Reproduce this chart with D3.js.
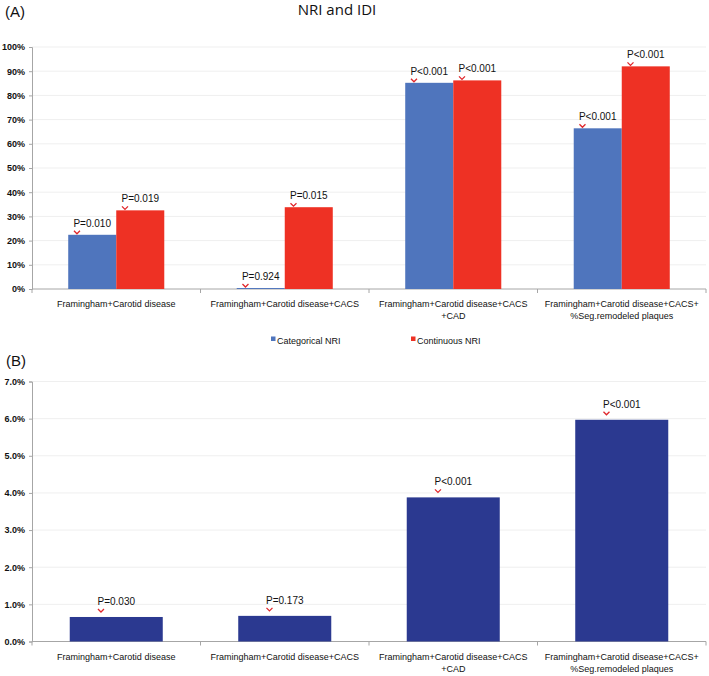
<!DOCTYPE html>
<html>
<head>
<meta charset="utf-8">
<script src="https://cdn.jsdelivr.net/npm/d3@7"></script>
<style>
  html, body { margin: 0; padding: 0; background: #fff; }
  svg { display: block; }
</style>
</head>
<body>
<svg id="chart" width="709" height="676"></svg>
<script>
// ---------- data ----------
const categories = [
  "Framingham+Carotid disease",
  "Framingham+Carotid disease+CACS",
  "Framingham+Carotid disease+CACS\n+CAD",
  "Framingham+Carotid disease+CACS+\n%Seg.remodeled plaques"
];
const seriesNames = ["Categorical NRI", "Continuous NRI"];
const categoricalNRI = [22.4, 0.4, 85.2, 66.4];
const continuousNRI = [32.5, 33.8, 86.2, 92.0];
const categoricalP = ["P=0.010", "P=0.924", "P<0.001", "P<0.001"];
const continuousP = ["P=0.019", "P=0.015", "P<0.001", "P<0.001"];
const idiValues = [0.66, 0.69, 3.88, 5.97];
const idiP = ["P=0.030", "P=0.173", "P<0.001", "P<0.001"];
const ticksA = [0, 10, 20, 30, 40, 50, 60, 70, 80, 90, 100];
const ticksB = [0, 1, 2, 3, 4, 5, 6, 7];

// ---------- styles ----------
const colors = { "Categorical NRI": "#4f75bd", "Continuous NRI": "#ee3124" };
const idiColor = "#2b3990";
const chevronColor = "#e0262b";
const axisColor = "#a6a6a6";
const gridColor = "#efefef";
const font = "Liberation Sans, Arial, sans-serif";

const svg = d3.select("#chart");

// title
svg.append("text").attr("x", 337).attr("y", 15).attr("text-anchor", "middle")
  .attr("font-family", "Open Sans, Lato, sans-serif").attr("font-size", 15)
  .attr("fill", "#111").text("NRI and IDI");

svg.append("text").attr("x", 5).attr("y", 17)
  .attr("font-family", font).attr("font-size", 15).attr("fill", "#111").text("(A)");
svg.append("text").attr("x", 6).attr("y", 366)
  .attr("font-family", font).attr("font-size", 15).attr("fill", "#111").text("(B)");

function drawFrame(g, x, y, ticks, fmt) {
  const [x0, x1] = x.range();
  // gridlines
  g.append("g").selectAll("line").data(ticks.filter(t => t !== 0)).join("line")
    .attr("x1", x0).attr("x2", x1)
    .attr("y1", d => y(d)).attr("y2", d => y(d))
    .attr("stroke", gridColor).attr("stroke-width", 1);
  // y axis
  const ya = g.append("g").attr("transform", `translate(${x0},0)`)
    .call(d3.axisLeft(y).tickValues(ticks).tickFormat(fmt).tickSize(3).tickPadding(4));
  ya.select(".domain").attr("stroke", axisColor);
  ya.selectAll(".tick line").attr("stroke", axisColor);
  ya.selectAll(".tick text").attr("font-family", font).attr("font-size", 9)
    .attr("font-weight", "bold").attr("fill", "#111");
  // x axis line with category boundary ticks
  const base = y(0);
  g.append("line").attr("x1", x0).attr("x2", x1).attr("y1", base).attr("y2", base)
    .attr("stroke", axisColor).attr("stroke-width", 1);
  const step = x.step();
  const bounds = d3.range(categories.length + 1).map(i => x0 + i * step);
  g.append("g").selectAll("line").data(bounds).join("line")
    .attr("x1", d => d).attr("x2", d => d).attr("y1", base).attr("y2", base + 4)
    .attr("stroke", axisColor);
  // category labels
  const lab = g.append("g").selectAll("text").data(categories).join("text")
    .attr("text-anchor", "middle").attr("font-family", font).attr("font-size", 9)
    .attr("fill", "#111")
    .attr("transform", d => `translate(${x(d) + x.bandwidth() / 2},${base + 18})`);
  lab.selectAll("tspan").data(d => d.split("\n")).join("tspan")
    .attr("x", 0).attr("dy", (d, i) => i === 0 ? 0 : 12).text(d => d);
}

function pLabel(g, cx, barTop, text, offset) {
  const t = g.append("text").attr("x", cx).attr("y", barTop - offset)
    .attr("text-anchor", "middle").attr("font-family", font).attr("font-size", 10)
    .attr("fill", "#111").text(text);
  const w = t.node().getComputedTextLength();
  const tx = cx - w / 2;
  const by = barTop - offset;
  g.append("path")
    .attr("d", `M${tx + 0.5},${by + 4}L${tx + 3.5},${by + 7}L${tx + 6.5},${by + 4}`)
    .attr("fill", "none").attr("stroke", chevronColor).attr("stroke-width", 1.3);
}

// ---------- panel A ----------
const gA = svg.append("g");
const xA = d3.scaleBand().domain(categories).range([32, 706]).paddingInner(0).paddingOuter(0);
const xAg = d3.scaleBand().domain(categories).range([32, 706]).paddingInner(0.43).paddingOuter(0.215);
const xAs = d3.scaleBand().domain(seriesNames).range([0, xAg.bandwidth()]).padding(0);
const yA = d3.scaleLinear().domain([0, 100]).range([289, 47]);
drawFrame(gA, xA, yA, ticksA, d => d + "%");

const rowsA = categories.map((c, i) => ({
  cat: c,
  vals: [
    { s: seriesNames[0], v: categoricalNRI[i], p: categoricalP[i] },
    { s: seriesNames[1], v: continuousNRI[i], p: continuousP[i] }
  ]
}));
rowsA.forEach(r => {
  r.vals.forEach(d => {
    const bx = xAg(r.cat) + xAs(d.s);
    gA.append("rect").attr("x", bx).attr("y", yA(d.v))
      .attr("width", xAs.bandwidth()).attr("height", yA(0) - yA(d.v))
      .attr("fill", colors[d.s]);
  });
});
rowsA.forEach(r => {
  r.vals.forEach(d => {
    const cx = xAg(r.cat) + xAs(d.s) + xAs.bandwidth() / 2;
    pLabel(gA, cx, yA(d.v), d.p, 8);
  });
});

// legend
const leg = svg.append("g");
const legX = [271, 411];
seriesNames.forEach((s, i) => {
  leg.append("rect").attr("x", legX[i]).attr("y", 336.5).attr("width", 4.5).attr("height", 4.5)
    .attr("fill", colors[s]);
  leg.append("text").attr("x", legX[i] + 6).attr("y", 344)
    .attr("font-family", font).attr("font-size", 9).attr("fill", "#111").text(s);
});

// ---------- panel B ----------
const gB = svg.append("g");
const xB = d3.scaleBand().domain(categories).range([32, 706]).paddingInner(0).paddingOuter(0);
const xBb = d3.scaleBand().domain(categories).range([32, 706]).paddingInner(0.448).paddingOuter(0.224);
const yB = d3.scaleLinear().domain([0, 7]).range([641.5, 381.5]);
drawFrame(gB, xB, yB, ticksB, d => d.toFixed(1) + "%");

categories.forEach((c, i) => {
  gB.append("rect").attr("x", xBb(c)).attr("y", yB(idiValues[i]))
    .attr("width", xBb.bandwidth()).attr("height", yB(0) - yB(idiValues[i]))
    .attr("fill", idiColor);
});
categories.forEach((c, i) => {
  pLabel(gB, xBb(c) + xBb.bandwidth() / 2, yB(idiValues[i]), idiP[i], 12);
});
</script>
</body>
</html>
